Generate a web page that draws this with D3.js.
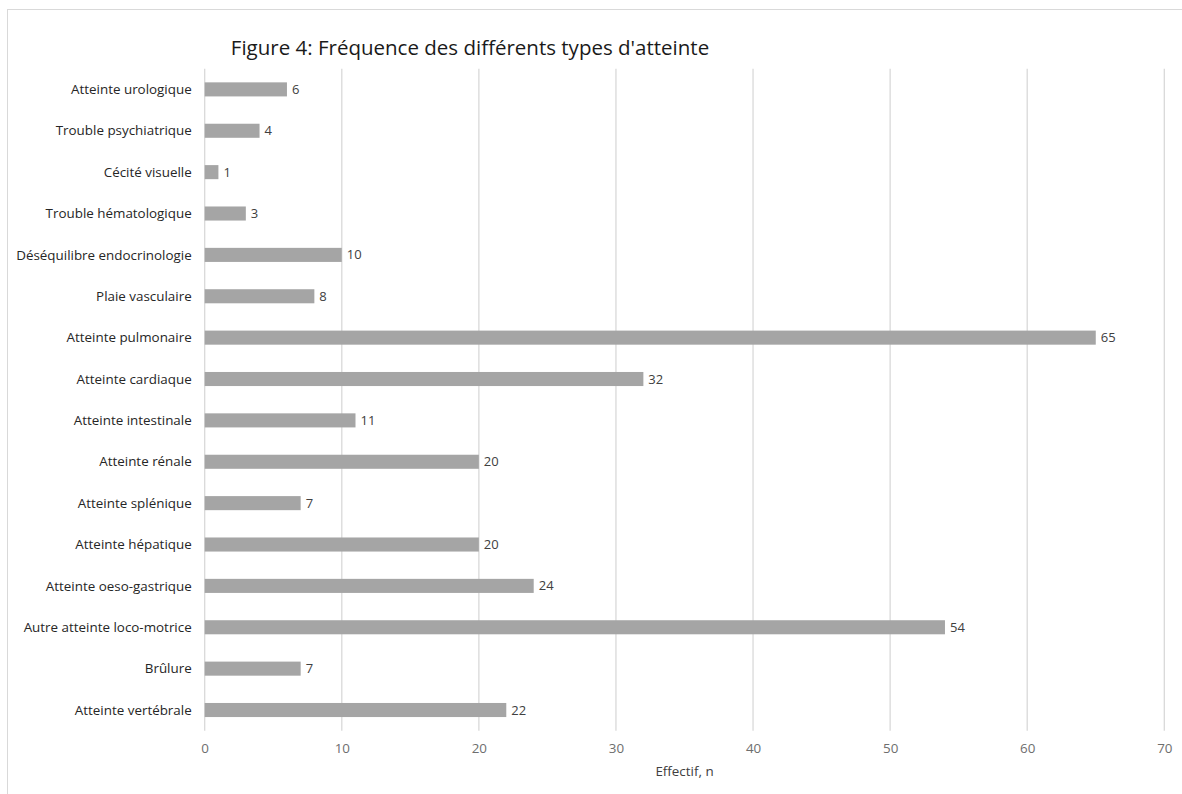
<!DOCTYPE html>
<html>
<head>
<meta charset="utf-8">
<script src="https://cdn.jsdelivr.net/npm/d3@7"></script>
<style>
  html, body { margin: 0; padding: 0; background: #fff; }
  svg { display: block; }
  text { font-family: "Open Sans", sans-serif; }
</style>
</head>
<body>
<svg id="chart" width="1182" height="794"></svg>
<script>
// Categories listed top to bottom
const categories = [
  "Atteinte urologique",
  "Trouble psychiatrique",
  "Cécité visuelle",
  "Trouble hématologique",
  "Déséquilibre endocrinologie",
  "Plaie vasculaire",
  "Atteinte pulmonaire",
  "Atteinte cardiaque",
  "Atteinte intestinale",
  "Atteinte rénale",
  "Atteinte splénique",
  "Atteinte hépatique",
  "Atteinte oeso-gastrique",
  "Autre atteinte loco-motrice",
  "Brûlure",
  "Atteinte vertébrale"
];
const values = [6, 4, 1, 3, 10, 8, 65, 32, 11, 20, 7, 20, 24, 54, 7, 22];
const xTicks = [0, 10, 20, 30, 40, 50, 60, 70];
const titleText = "Figure 4: Fréquence des différents types d'atteinte";
const xAxisTitle = "Effectif, n";

const svg = d3.select("#chart");

// Outer chart frame
svg.append("rect")
  .attr("x", 7.5).attr("y", 9.5)
  .attr("width", 1200).attr("height", 800)
  .attr("fill", "none").attr("stroke", "#d9d9d9").attr("stroke-width", 1);

const plot = { left: 204.7, right: 1164.3, top: 68.7, bottom: 730.7 };

const x = d3.scaleLinear().domain([0, 70]).range([plot.left, plot.right]);
const y = d3.scaleBand().domain(categories).range([plot.top, plot.bottom]).paddingInner(0.66).paddingOuter(0.33);

// Vertical gridlines
svg.append("g")
  .selectAll("line")
  .data(xTicks)
  .join("line")
  .attr("x1", d => x(d)).attr("x2", d => x(d))
  .attr("y1", plot.top).attr("y2", plot.bottom)
  .attr("stroke", "#d9d9d9").attr("stroke-width", 1.3);

// Bars
svg.append("g")
  .selectAll("rect")
  .data(categories)
  .join("rect")
  .attr("x", x(0))
  .attr("y", d => y(d))
  .attr("width", (d, i) => x(values[i]) - x(0))
  .attr("height", y.bandwidth())
  .attr("fill", "#a5a5a5");

// Value labels
svg.append("g")
  .selectAll("text")
  .data(categories)
  .join("text")
  .attr("x", (d, i) => x(values[i]) + 5)
  .attr("y", d => y(d) + y.bandwidth() / 2)
  .attr("dy", "0.35em")
  .attr("font-size", 13)
  .attr("fill", "#404040")
  .text((d, i) => values[i]);

// Category axis labels
svg.append("g")
  .selectAll("text")
  .data(categories)
  .join("text")
  .attr("x", plot.left - 13)
  .attr("y", d => y(d) + y.bandwidth() / 2)
  .attr("dy", "0.35em")
  .attr("text-anchor", "end")
  .attr("font-size", 13.4)
  .attr("fill", "#262626")
  .text(d => d);

// X axis tick labels
const xAxis = d3.axisBottom(x).tickValues(xTicks).tickSize(0).tickPadding(0);
const gx = svg.append("g").attr("transform", `translate(0,${plot.bottom})`).call(xAxis);
gx.select(".domain").remove();
gx.selectAll("text")
  .attr("y", 17.3)
  .attr("dy", "0.35em")
  .attr("font-size", 13.4)
  .attr("font-family", "Open Sans, sans-serif")
  .attr("fill", "#6e6e6e");

// X axis title
svg.append("text")
  .attr("x", (plot.left + plot.right) / 2)
  .attr("y", 771)
  .attr("dy", "0.35em")
  .attr("text-anchor", "middle")
  .attr("font-size", 13.4)
  .attr("fill", "#404040")
  .text(xAxisTitle);

// Chart title
svg.append("text")
  .attr("x", 470)
  .attr("y", 48)
  .attr("dy", "0.35em")
  .attr("text-anchor", "middle")
  .attr("font-size", 20.5)
  .attr("fill", "#1a1a1a")
  .text(titleText);
</script>
</body>
</html>
